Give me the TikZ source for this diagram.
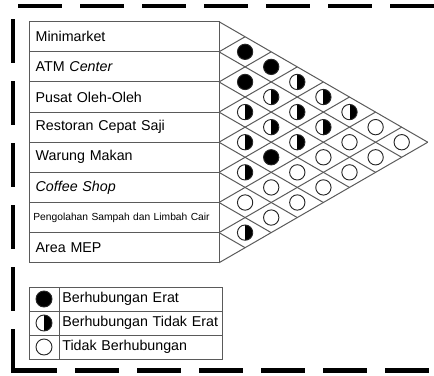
\documentclass[tikz,border=0pt]{standalone}
\usepackage{fontspec}
\setmainfont{Liberation Sans}
\usetikzlibrary{calc,positioning}
\definecolor{GridGray}{RGB}{90,90,90}
\newcommand{\rowfont}{\fontsize{10.7}{12}\selectfont}
\newcommand{\tinyrowfont}{\fontsize{7.7}{9}\selectfont}
\tikzset{
  rowbox/.style={draw=GridGray,line width=0.75pt,minimum width=142.5pt,minimum height=22.6pt,
    text width=132.5pt,inner xsep=5pt,align=left,outer sep=0pt,font=\rowfont},
  gridline/.style={draw=GridGray,line width=0.75pt},
  relnone/.style={circle,draw=black!85,line width=0.7pt,minimum size=11.5pt,inner sep=0pt},
  relfull/.style={relnone,fill=black},
  relhalf/.style={relnone,path picture={\fill[black] (path picture bounding box.north) rectangle (path picture bounding box.south east);}},
  keycell/.style={draw=GridGray,line width=0.75pt,minimum width=22.5pt,minimum height=18pt,outer sep=0pt},
  keytext/.style={keycell,minimum width=122.25pt,text width=117.25pt,inner xsep=2.5pt,align=left,font=\rowfont},
  frameline/.style={line width=3.4pt,dash pattern=on 33pt off 13.5pt}
}

\begin{document}
\begin{tikzpicture}[x=0.75pt,y=-0.75pt]
  \useasboundingbox (0,0) rectangle (434,375);
  % dashed frame
  \draw[frameline] (13,372.75) -- (13,6) -- (445,6);
  \draw[frameline] (13,370.5) -- (445,370.5);
  % facility rows
  \node[rowbox] (r1) at (124,36.75) {Minimarket};
  \node[rowbox,below=0pt of r1] (r2) {ATM \textit{Center}};
  \node[rowbox,below=0pt of r2] (r3) {Pusat Oleh-Oleh};
  \node[rowbox,below=0pt of r3] (r4) {Restoran Cepat Saji};
  \node[rowbox,below=0pt of r4] (r5) {Warung Makan};
  \node[rowbox,below=0pt of r5] (r6) {\textit{Coffee Shop}};
  \node[rowbox,below=0pt of r6,font=\tinyrowfont,text width=136pt,inner xsep=3.25pt] (r7) {Pengolahan Sampah dan Limbah Cair};
  \node[rowbox,below=0pt of r7] (r8) {Area MEP};
  % diamond grid
  \coordinate (b0) at (r1.north east);
  \foreach \i in {1,...,8} \coordinate (b\i) at (r\i.south east);
  \foreach \k in {0,...,8}{
    \draw[gridline] (b\k) -- ++({(8-\k)*26.1},{(8-\k)*15.07});
    \draw[gridline] (b\k) -- ++({\k*26.1},{-\k*15.07});
  }
  % relations
  \foreach \i/\j/\kind in {1/2/relfull,1/3/relfull,1/4/relhalf,1/5/relhalf,1/6/relhalf,1/7/relnone,1/8/relnone,
      2/3/relfull,2/4/relhalf,2/5/relhalf,2/6/relhalf,2/7/relnone,2/8/relnone,
      3/4/relhalf,3/5/relhalf,3/6/relhalf,3/7/relnone,3/8/relnone,
      4/5/relhalf,4/6/relfull,4/7/relnone,4/8/relnone,
      5/6/relhalf,5/7/relnone,5/8/relnone,
      6/7/relnone,6/8/relnone,7/8/relhalf}
    \node[\kind] (c\i\j) at ($(r\i.east)!0.5!(r\j.east)+({(\j-\i)*26.1},0)$) {};
  % legend
  \node[keycell] (k1) at (44,299) {};
  \node[keytext,right=0pt of k1] (t1) {Berhubungan Erat};
  \node[keycell,below=0pt of k1] (k2) {};
  \node[keytext,right=0pt of k2] (t2) {Berhubungan Tidak Erat};
  \node[keycell,below=0pt of k2] (k3) {};
  \node[keytext,right=0pt of k3] (t3) {Tidak Berhubungan};
  \node[relfull,minimum size=12pt] (s1) at (k1) {};
  \node[relhalf,minimum size=12pt] (s2) at (k2) {};
  \node[relnone,minimum size=12pt] (s3) at (k3) {};
\end{tikzpicture}
\end{document}
